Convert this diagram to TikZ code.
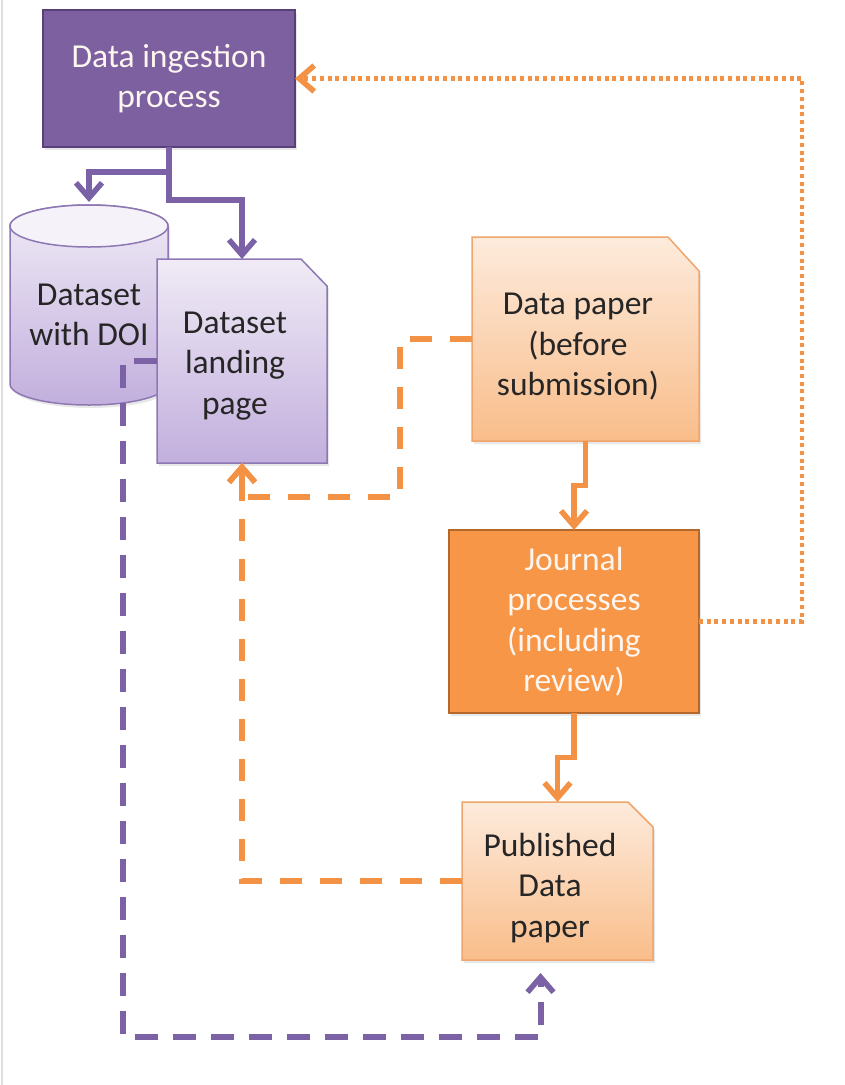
\documentclass[tikz,border=0pt]{standalone}
\usepackage{fontspec}
\setmainfont{Carlito}
\usetikzlibrary{arrows.meta,calc,shadows}
\definecolor{ingfill}{HTML}{7D60A0}
\definecolor{ingdraw}{HTML}{5A4079}
\definecolor{pline}{HTML}{7B62A6}
\definecolor{lavtop}{HTML}{F0EBF6}
\definecolor{lavbot}{HTML}{C2AFDD}
\definecolor{lavdraw}{HTML}{8E78B4}
\definecolor{cyltop}{HTML}{F5F2F9}
\definecolor{peachtop}{HTML}{FDEBDC}
\definecolor{peachbot}{HTML}{F9BD8A}
\definecolor{peachdraw}{HTML}{EFA56C}
\definecolor{jfill}{HTML}{F79646}
\definecolor{jdraw}{HTML}{B5682C}
\definecolor{oline}{HTML}{F39245}
\definecolor{txt}{HTML}{262626}
\definecolor{wtxt}{HTML}{FDF6F0}
\begin{document}
\begin{tikzpicture}[x=1pt,y=-1pt,
  every node/.style={font=\fontsize{33.5}{40.5}\selectfont, align=center},
  frame/.style={inner sep=0pt, outer sep=0pt},
  label/.style={text=txt, inner sep=0pt},
  shad/.style={drop shadow={opacity=0.18, shadow xshift=2pt, shadow yshift=-3pt}},
  lavshape/.style={top color=lavtop, bottom color=lavbot, draw=lavdraw, line width=1.5pt},
  peachshape/.style={top color=peachtop, bottom color=peachbot, draw=peachdraw, line width=1.5pt},
  barb/.style={-{Straight Barb[length=15pt,width=26pt,line width=5.5pt]}},
  psolid/.style={barb, draw=pline, line width=5.5pt},
  osolid/.style={barb, draw=oline, line width=5.5pt},
  odot/.style={barb, draw=oline, line width=4.5pt, dash pattern=on 4pt off 3.7pt},
  odash/.style={barb, draw=oline, line width=6pt, dash pattern=on 22pt off 18pt},
  pdash/.style={barb, draw=pline, line width=6pt, dash pattern=on 23pt off 15pt}]
\useasboundingbox (0,0) rectangle (844,1085);
\fill[white] (0,0) rectangle (844,1085);
\draw[gray!25, line width=1.5pt] (2,0) -- (2,1085);

% nodes (frames)
\node[frame, shad, fill=ingfill, draw=ingdraw, line width=2pt, minimum width=252pt, minimum height=137pt, text=wtxt] (ing) at (169,78.5) {Data ingestion\\process};
\node[frame, minimum width=158pt, minimum height=200pt] (cyl) at (89,305) {};
\node[frame, minimum width=170pt, minimum height=204pt] (land) at (242,361) {};
\node[frame, minimum width=227pt, minimum height=204pt] (paper) at (585.5,339) {};
\node[frame, shad, fill=jfill, draw=jdraw, line width=2pt, minimum width=250pt, minimum height=183pt, text=wtxt] (jour) at (574,621.5) {Journal\\processes\\(including\\review)};
\node[frame, minimum width=191pt, minimum height=158pt] (pub) at (557.5,881) {};

% cylinder
\shade[shad, top color=lavtop, bottom color=lavbot, draw=lavdraw, line width=1.5pt]
  (10,226) -- (10,384) arc[start angle=180, end angle=360, x radius=79pt, y radius=21pt]
  -- (168,226) arc[start angle=0, end angle=180, x radius=79pt, y radius=21pt] -- cycle;
\filldraw[fill=cyltop, draw=lavdraw, line width=1.5pt] (89,226) ellipse[x radius=79pt, y radius=21pt];

% documents
\shade[lavshape, shad] (land.north west) -- ($(land.north east)+(-26,0)$) -- ($(land.north east)+(0,27)$) -- (land.south east) -- (land.south west) -- cycle;
\shade[peachshape, shad] (paper.north west) -- ($(paper.north east)+(-31,0)$) -- ($(paper.north east)+(0,34)$) -- (paper.south east) -- (paper.south west) -- cycle;
\shade[peachshape, shad] (pub.north west) -- ($(pub.north east)+(-25,0)$) -- ($(pub.north east)+(0,25)$) -- (pub.south east) -- (pub.south west) -- cycle;

% labels
\node[label] (cylT) at (89,315) {Dataset\\with DOI};
\node[label] (landT) at (235,366) {Dataset\\landing\\page};
\node[label] (paperT) at (578,347) {Data paper\\(before\\submission)};
\node[label] (pubT) at (550,888) {Published\\Data\\paper};

% connectors
\draw[psolid, shorten >=3pt] (ing.south) -- ($(ing.south)+(0,25)$) -| (cyl.north);
\draw[psolid] (ing.south) -- ($(ing.south)+(0,53)$) -| (land.north);
\draw[osolid] (paper.south) |- ($(paper.south)!.5!(jour.north)$) -| (jour.north);
\draw[osolid] (jour.south) |- ($(jour.south)!.5!(pub.north)$) -| (pub.north);
\draw[odot] (jour.east) -| ($(ing.east)+(507,0)$) -- (ing.east);
\draw[odash] (paper.west) -| ($(land.south)+(158,34)$) -| (land.south);
\draw[odash] (pub.west) -| (land.south);
\draw[pdash] (land.west) -| ($(land.west)+(-34,676)$) -| ($(pub.south)+(-17,13)$);
\end{tikzpicture}
\end{document}
